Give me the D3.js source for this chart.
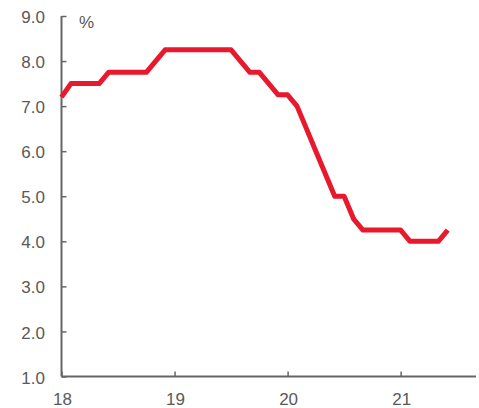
<!DOCTYPE html>
<html>
<head>
<meta charset="utf-8">
<script src="https://cdn.jsdelivr.net/npm/d3@7"></script>
<style>
  html, body { margin: 0; padding: 0; background: #fff; }
  svg { display: block; }
  text { font-family: "Liberation Sans", Arial, sans-serif; fill: #595959; }
</style>
</head>
<body>
<svg id="chart" width="479" height="408"></svg>
<script>
// Monthly rate, starting January 2018 (month index 0)
const months = d3.range(0, 42);
const rates = [
  7.2, 7.5, 7.5, 7.5, 7.5, 7.75, 7.75, 7.75, 7.75, 7.75, 8.0, 8.25,
  8.25, 8.25, 8.25, 8.25, 8.25, 8.25, 8.25, 8.0, 7.75, 7.75, 7.5, 7.25,
  7.25, 7.0, 6.5, 6.0, 5.5, 5.0, 5.0, 4.5, 4.25, 4.25, 4.25, 4.25,
  4.25, 4.0, 4.0, 4.0, 4.0, 4.25
];
const yTicks = [1, 2, 3, 4, 5, 6, 7, 8, 9];
const xTickMonths = [0, 12, 24, 36];
const xTickLabels = ["18", "19", "20", "21"];
const unitLabel = "%";

const svg = d3.select("#chart");
const mLeft = 61.5, mRight = 476, mTop = 16, mBottom = 376.5;

const x = d3.scaleLinear().domain([0, 44]).range([mLeft, mRight]);
const y = d3.scaleLinear().domain([1, 9]).range([mBottom, mTop]);

const axisColor = "#666666";

// y axis (ticks point inward)
const yAxis = svg.append("g")
  .attr("transform", `translate(${mLeft},0)`)
  .call(d3.axisRight(y).tickValues(yTicks).tickSize(5).tickFormat(""));
yAxis.select(".domain").attr("stroke", axisColor).attr("stroke-width", 2)
  .attr("d", `M0,${mTop}V${mBottom}`);
yAxis.selectAll(".tick line").attr("stroke", axisColor).attr("stroke-width", 1.5);

svg.append("g").selectAll("text").data(yTicks).join("text")
  .attr("x", 45).attr("y", d => y(d) + 1).attr("dy", "0.36em")
  .attr("text-anchor", "end").attr("font-size", 17)
  .text(d => d.toFixed(1));

// x axis (ticks point inward)
const xAxis = svg.append("g")
  .attr("transform", `translate(0,${mBottom})`)
  .call(d3.axisTop(x).tickValues(xTickMonths).tickSize(5).tickFormat(""));
xAxis.select(".domain").attr("stroke", axisColor).attr("stroke-width", 2)
  .attr("d", `M${mLeft},0H${mRight}`);
xAxis.selectAll(".tick line").attr("stroke", axisColor).attr("stroke-width", 1.5);

svg.append("g").selectAll("text").data(xTickMonths).join("text")
  .attr("x", d => x(d) + 1).attr("y", 405)
  .attr("text-anchor", "middle").attr("font-size", 17)
  .text((d, i) => xTickLabels[i]);

svg.append("text").attr("x", 79).attr("y", 28).attr("font-size", 17).text(unitLabel);

// rate line
const line = d3.line().x((d, i) => x(months[i])).y(d => y(d));
svg.append("path").datum(rates)
  .attr("d", line)
  .attr("fill", "none")
  .attr("stroke", "#E8192C")
  .attr("stroke-width", 5)
  .attr("stroke-linejoin", "round");
</script>
</body>
</html>
